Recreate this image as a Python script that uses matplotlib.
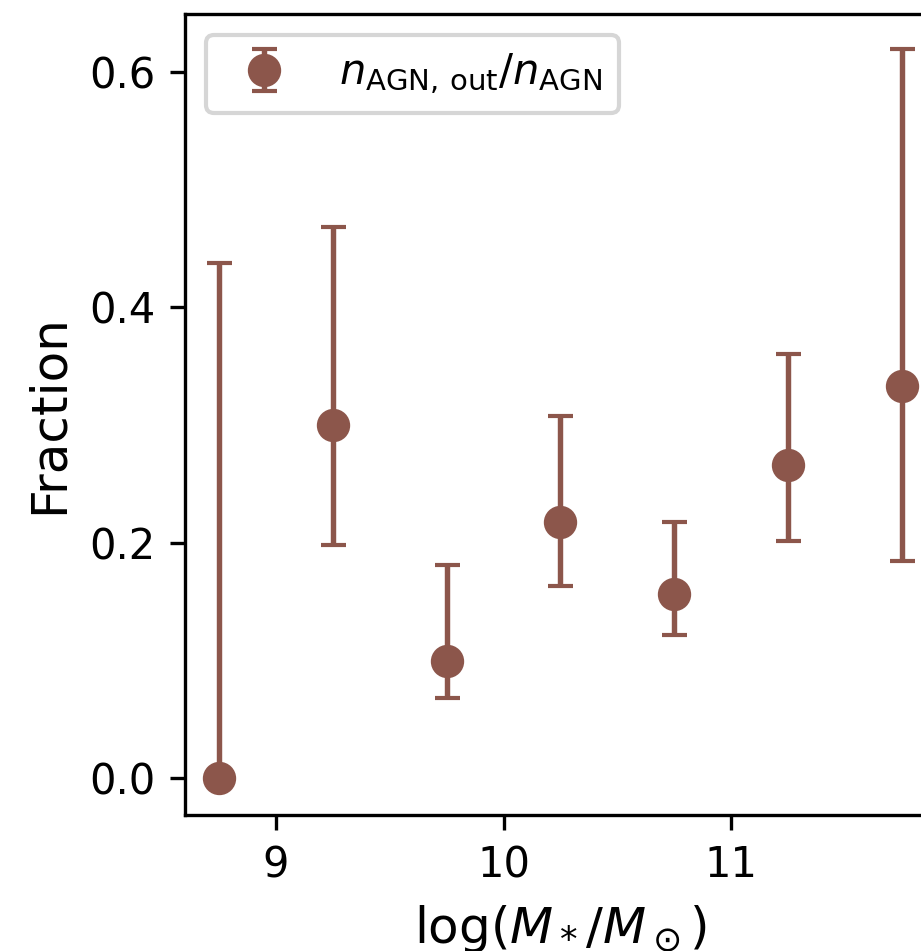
import matplotlib
matplotlib.use("Agg")
import matplotlib.pyplot as plt
import numpy as np

# stellar mass bins and outflow fraction with asymmetric errors
mass = [8.75, 9.25, 9.75, 10.25, 10.75, 11.25, 11.75]
frac = [0.0, 0.300, 0.100, 0.218, 0.157, 0.266, 0.333]
frac_lo = [0.0, 0.198, 0.068, 0.163, 0.1215, 0.202, 0.185]
frac_hi = [0.438, 0.468, 0.181, 0.308, 0.218, 0.360, 0.619]

frac = np.array(frac)
yerr = [frac - np.array(frac_lo), np.array(frac_hi) - frac]

fig = plt.figure(figsize=(921 / 300, 951 / 300), dpi=300)
ax = fig.add_axes([185 / 921, 136 / 951, 751 / 921, 801 / 951])

ax.errorbar(mass, frac, yerr=yerr, fmt='o', color='tab:brown',
            markersize=7, elinewidth=1.3, capsize=3, capthick=1.0,
            label=r'$n_{\rm AGN,\,out}/n_{\rm AGN}$')

ax.set_xlim(8.6, 11.9)
ax.set_ylim(-0.031, 0.649)
ax.set_xticks([9, 10, 11])
ax.set_yticks([0.0, 0.2, 0.4, 0.6])
ax.tick_params(labelsize=10)
ax.set_xlabel(r'$\log(M_*/M_\odot)$', fontsize=12)
ax.set_ylabel('Fraction', fontsize=12)
ax.legend(loc='upper left', fontsize=10)

fig.savefig('out.png', dpi=300)
